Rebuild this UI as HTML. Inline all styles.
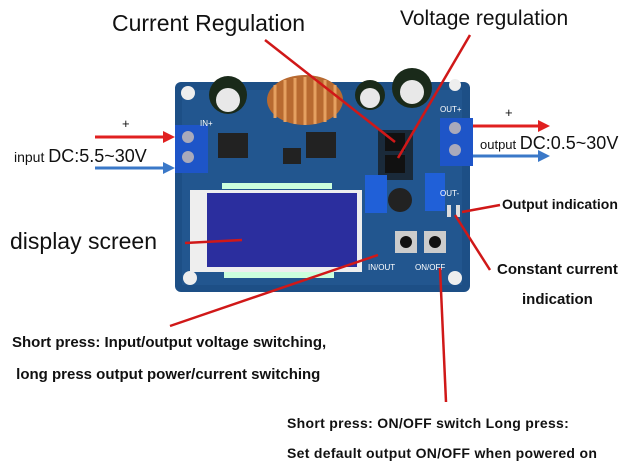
<!DOCTYPE html>
<html><head><style>
body{margin:0;width:640px;height:474px;background:#fff;position:relative;overflow:hidden;font-family:"Liberation Sans",sans-serif}
.t{position:absolute;color:#111;white-space:nowrap}
</style></head><body>
<svg width="640" height="474" style="position:absolute;left:0;top:0">
<rect x="175" y="82" width="295" height="210" rx="6" fill="#1d4f86"/>
<rect x="182" y="90" width="280" height="195" fill="#22568f"/>
<circle cx="188" cy="93" r="7" fill="#eee"/><circle cx="455" cy="85" r="6" fill="#eee"/>
<circle cx="190" cy="278" r="7" fill="#eee"/><circle cx="455" cy="278" r="7" fill="#eee"/>
<circle cx="228" cy="95" r="19" fill="#1a2a1a"/><circle cx="228" cy="100" r="12" fill="#e8e8e8"/>
<circle cx="370" cy="95" r="15" fill="#1a2a1a"/><circle cx="370" cy="98" r="10" fill="#e8e8e8"/>
<circle cx="412" cy="88" r="20" fill="#1a2a1a"/><circle cx="412" cy="92" r="12" fill="#e8e8e8"/>
<ellipse cx="305" cy="100" rx="38" ry="25" fill="#b86a30"/>
<g stroke="#e5a060" stroke-width="3"><line x1="275" y1="85" x2="275" y2="118"/><line x1="285" y1="80" x2="285" y2="122"/><line x1="295" y1="78" x2="295" y2="124"/><line x1="305" y1="77" x2="305" y2="125"/><line x1="315" y1="78" x2="315" y2="124"/><line x1="325" y1="80" x2="325" y2="122"/><line x1="335" y1="85" x2="335" y2="118"/></g>
<rect x="218" y="133" width="30" height="25" fill="#222"/><rect x="306" y="132" width="30" height="26" fill="#222"/>
<rect x="283" y="148" width="18" height="16" fill="#222"/>
<rect x="378" y="130" width="35" height="50" fill="#1a2a3a"/>
<rect x="385" y="133" width="20" height="18" fill="#111"/><rect x="385" y="155" width="20" height="18" fill="#111"/>
<rect x="175" y="125" width="33" height="48" fill="#1e55c8"/>
<circle cx="188" cy="137" r="6" fill="#aab"/><circle cx="188" cy="157" r="6" fill="#aab"/>
<rect x="440" y="118" width="33" height="48" fill="#1e55c8"/>
<circle cx="455" cy="128" r="6" fill="#aab"/><circle cx="455" cy="150" r="6" fill="#aab"/>
<rect x="365" y="175" width="22" height="38" fill="#2060d8"/><rect x="425" y="173" width="20" height="38" fill="#2060d8"/>
<circle cx="400" cy="200" r="12" fill="#222"/>
<rect x="190" y="190" width="172" height="82" fill="#eee"/>
<rect x="207" y="193" width="150" height="74" fill="#2b2e9e"/>
<g fill="#cfd"><rect x="222" y="183" width="110" height="6"/><rect x="224" y="272" width="110" height="6"/></g>
<rect x="395" y="231" width="22" height="22" fill="#ccc"/><circle cx="406" cy="242" r="6" fill="#111"/>
<rect x="424" y="231" width="22" height="22" fill="#ccc"/><circle cx="435" cy="242" r="6" fill="#111"/>
<rect x="447" y="205" width="4" height="12" fill="#ddd"/><rect x="456" y="205" width="4" height="12" fill="#ddd"/>
<g fill="#fff" font-size="8" font-family="Liberation Sans"><text x="200" y="126">IN+</text><text x="440" y="112">OUT+</text><text x="440" y="196">OUT-</text><text x="368" y="270">IN/OUT</text><text x="415" y="270">ON/OFF</text></g>
<g stroke-width="3" fill="none">
<line x1="95" y1="137" x2="165" y2="137" stroke="#e02020"/><line x1="95" y1="168" x2="165" y2="168" stroke="#3a78c8"/>
<line x1="473" y1="126" x2="540" y2="126" stroke="#e02020"/><line x1="473" y1="156" x2="540" y2="156" stroke="#3a78c8"/>
</g>
<polygon points="163,131 175,137 163,143" fill="#e02020"/><polygon points="163,162 175,168 163,174" fill="#3a78c8"/>
<polygon points="538,120 550,126 538,132" fill="#e02020"/><polygon points="538,150 550,156 538,162" fill="#3a78c8"/>
<g stroke="#d01818" stroke-width="2.5">
<line x1="265" y1="40" x2="395" y2="142"/>
<line x1="470" y1="35" x2="398" y2="158"/>
<line x1="185" y1="243" x2="242" y2="240"/>
<line x1="170" y1="326" x2="378" y2="255"/>
<line x1="440" y1="268" x2="446" y2="402"/>
<line x1="500" y1="205" x2="462" y2="212"/>
<line x1="490" y1="270" x2="455" y2="215"/>
</g>
</svg>
<div class="t" style="left:112px;top:10px;font-size:23px">Current Regulation</div>
<div class="t" style="left:400px;top:7px;font-size:21px">Voltage regulation</div>
<div class="t" style="left:122px;top:116px;font-size:13px">+</div>
<div class="t" style="left:14px;top:146px;font-size:14px">input <span style="font-size:18px">DC:5.5~30V</span></div>
<div class="t" style="left:505px;top:105px;font-size:13px">+</div>
<div class="t" style="left:480px;top:133px;font-size:13px">output <span style="font-size:18px">DC:0.5~30V</span></div>
<div class="t" style="left:10px;top:228px;font-size:23px">display screen</div>
<div class="t" style="left:502px;top:196px;font-size:14px;font-weight:bold">Output indication</div>
<div class="t" style="left:497px;top:255px;font-size:15px;font-weight:bold;line-height:30px;text-align:center">Constant current<br>indication</div>
<div class="t" style="left:12px;top:327px;font-size:15px;font-weight:bold;line-height:32px">Short press: Input/output voltage switching,<br>&nbsp;long press output power/current switching</div>
<div class="t" style="left:287px;top:408px;font-size:14px;font-weight:bold;line-height:30px;letter-spacing:0.3px">Short press: ON/OFF switch Long press:<br>Set default output ON/OFF when powered on</div>
</body></html>
